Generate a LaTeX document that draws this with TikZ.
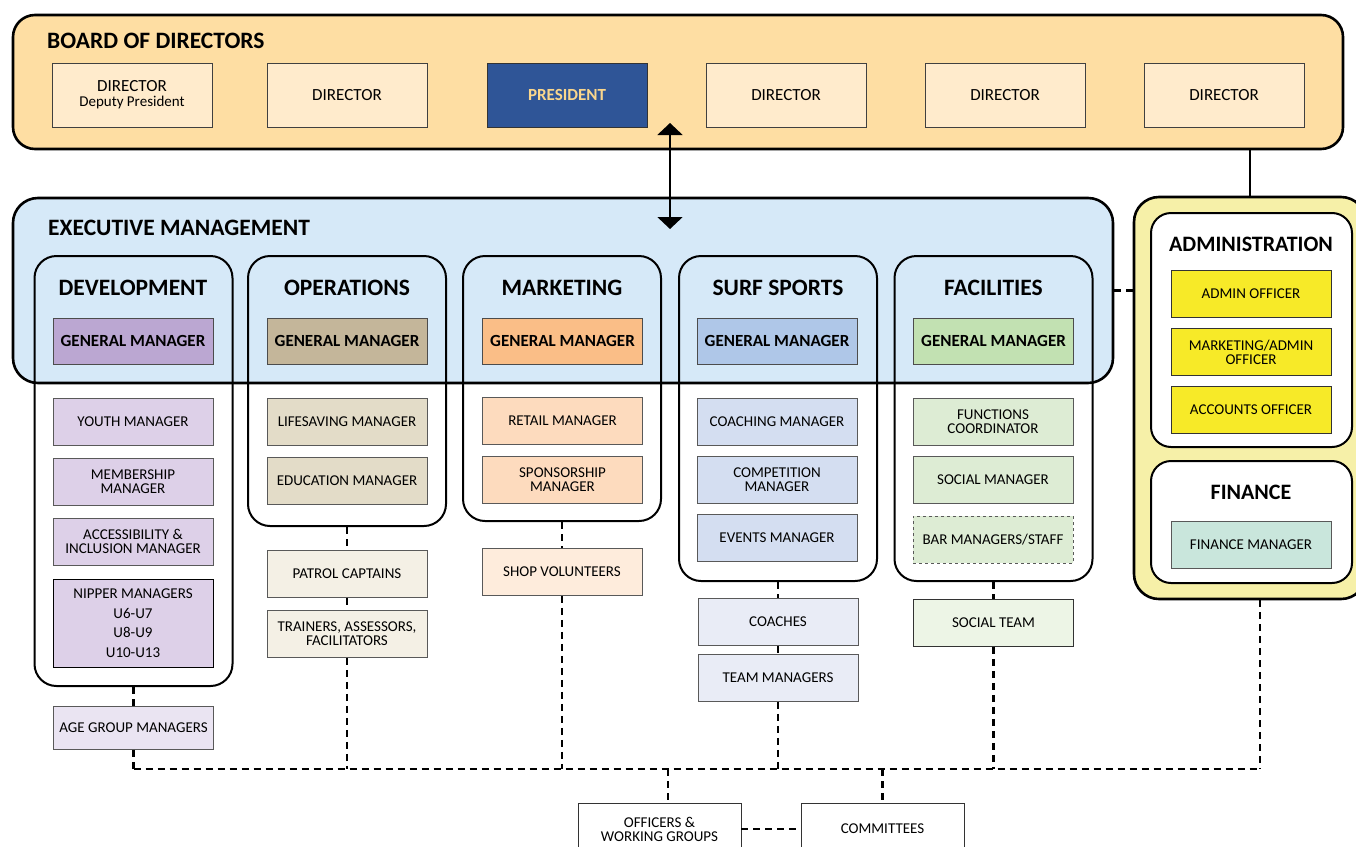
\documentclass[tikz,border=0pt]{standalone}
\usepackage{fontspec}
\setmainfont{Carlito}
\usetikzlibrary{positioning,arrows.meta}

\definecolor{boardfill}{RGB}{254,222,163}
\definecolor{dirfill}{RGB}{255,235,204}
\definecolor{presfill}{RGB}{47,85,151}
\definecolor{prestext}{RGB}{250,214,140}
\definecolor{execfill}{RGB}{214,233,248}
\definecolor{yelfill}{RGB}{246,240,168}
\definecolor{offfill}{RGB}{247,234,40}
\definecolor{finfill}{RGB}{201,230,220}
\definecolor{purpleA}{RGB}{187,167,210}
\definecolor{purpleB}{RGB}{221,208,232}
\definecolor{purpleC}{RGB}{234,228,242}
\definecolor{tanA}{RGB}{196,182,154}
\definecolor{tanB}{RGB}{227,220,200}
\definecolor{tanC}{RGB}{244,240,229}
\definecolor{orangeA}{RGB}{250,190,135}
\definecolor{orangeB}{RGB}{253,219,190}
\definecolor{orangeC}{RGB}{254,236,220}
\definecolor{blueA}{RGB}{175,199,232}
\definecolor{blueB}{RGB}{212,222,241}
\definecolor{blueC}{RGB}{233,236,246}
\definecolor{greenA}{RGB}{194,225,178}
\definecolor{greenB}{RGB}{221,236,212}
\definecolor{greenC}{RGB}{237,245,230}

\begin{document}
\begin{tikzpicture}[x=1pt,y=-1pt,>={Triangle[width=25pt,length=12pt]},
    group/.style={draw,line width=2.6pt,rounded corners=22pt,inner sep=0pt},
    dept/.style={draw,line width=2pt,rounded corners=22pt,minimum width=198pt,anchor=north,inner sep=0pt},
    head/.style={inner sep=0pt,font=\fontsize{23.5}{24}\selectfont\bfseries},
    dir node/.style={draw=black!75,line width=0.9pt,fill=dirfill,minimum width=160pt,minimum height=64pt,align=center,font=\fontsize{17}{17}\selectfont},
    gm node/.style={draw=black!70,line width=1pt,minimum width=160pt,minimum height=46pt,font=\fontsize{17}{17}\selectfont\bfseries},
    sub node/.style={draw=black!65,line width=0.9pt,minimum width=160pt,minimum height=47pt,align=center,font=\fontsize{15}{14}\selectfont},
    link/.style={line width=2.3pt,dash pattern=on 7pt off 5pt}]
    \useasboundingbox (0,0) rectangle (1356,846);
    \clip (0,0) rectangle (1356,846);

    % board of directors
    \node[group,fill=boardfill,minimum width=1330pt,minimum height=134pt] (board) at (678,82) {};
    \node[head,anchor=west] (boardt) at (47,41) {BOARD OF DIRECTORS};
    \node[dir node] (d1) at (132,95) {DIRECTOR\\[-2pt]{\fontsize{15}{15}\selectfont Deputy President}};
    \node[dir node] (d2) at (347,95) {DIRECTOR};
    \node[dir node,draw=black!80,fill=presfill,text=prestext,font=\fontsize{17}{17}\selectfont\bfseries] (pres) at (567,95) {PRESIDENT};
    \node[dir node] (d4) at (786,95) {DIRECTOR};
    \node[dir node] (d5) at (1005,95) {DIRECTOR};
    \node[dir node] (d6) at (1224,95) {DIRECTOR};

    % executive management
    \node[group,fill=execfill,rounded corners=25pt,minimum width=1100pt,minimum height=185pt] (exec) at (563,290.5) {};
    \node[head,anchor=west] (exect) at (48,228) {EXECUTIVE MANAGEMENT};
    \coordinate (up) at (670,123);
    \coordinate (down) at (670,229);
    \draw[<->,line width=2pt] (up) -- (down);

    % administration and finance
    \node[group,fill=yelfill,rounded corners=25pt,minimum width=232pt,minimum height=402pt] (yel) at (1250,398) {};
    \node[draw,line width=2pt,fill=white,rounded corners=20pt,minimum width=201pt,minimum height=234pt] (adm) at (1251.5,330) {};
    \node[head,font=\fontsize{22}{22}\selectfont\bfseries] (admt) at (1251,244) {ADMINISTRATION};
    \node[sub node,draw=black!80,fill=offfill] (o1) at (1251,294) {ADMIN OFFICER};
    \node[sub node,draw=black!80,fill=offfill,below=10pt of o1] (o2) {MARKETING/ADMIN\\OFFICER};
    \node[sub node,draw=black!80,fill=offfill,below=10pt of o2] (o3) {ACCOUNTS OFFICER};
    \node[draw,line width=2pt,fill=white,rounded corners=20pt,minimum width=201pt,minimum height=122pt] (fin) at (1251.5,522) {};
    \node[head,font=\fontsize{22}{22}\selectfont\bfseries] (fint) at (1251,492) {FINANCE};
    \node[sub node,fill=finfill] (fm) at (1251,545) {FINANCE MANAGER};

    % departments
    \node[dept,minimum height=430pt] (dev) at (133.5,255) {};
    \node[dept,minimum height=270pt] (ops) at (347,255) {};
    \node[dept,minimum height=265pt] (mkt) at (562,255) {};
    \node[dept,minimum height=325pt] (surf) at (778,255) {};
    \node[dept,minimum height=325pt] (fac) at (993.5,255) {};
    \node[head] (devt) at (133,288) {DEVELOPMENT};
    \node[head] (opst) at (347,288) {OPERATIONS};
    \node[head] (mktt) at (562,288) {MARKETING};
    \node[head] (surft) at (778,288) {SURF SPORTS};
    \node[head] (fact) at (993.5,288) {FACILITIES};
    \node[gm node,fill=purpleA] (gm1) at (133,341) {GENERAL MANAGER};
    \node[gm node,fill=tanA] (gm2) at (347,341) {GENERAL MANAGER};
    \node[gm node,fill=orangeA] (gm3) at (562.5,341) {GENERAL MANAGER};
    \node[gm node,fill=blueA] (gm4) at (777,341) {GENERAL MANAGER};
    \node[gm node,fill=greenA] (gm5) at (993.5,341) {GENERAL MANAGER};

    % development
    \node[sub node,fill=purpleB] (youth) at (133,422) {YOUTH MANAGER};
    \node[sub node,fill=purpleB,below=12pt of youth] (memb) {MEMBERSHIP\\MANAGER};
    \node[sub node,fill=purpleB,below=12pt of memb] (acc) {ACCESSIBILITY \&\\INCLUSION MANAGER};
    \node[sub node,draw=black,fill=purpleB,minimum height=88pt,font=\fontsize{15}{19.5}\selectfont,below=13pt of acc] (nip) {NIPPER MANAGERS\\U6-U7\\U8-U9\\U10-U13};
    \node[sub node,fill=purpleC,minimum height=43pt,below=19pt of dev] (age) {AGE GROUP MANAGERS};

    % operations
    \node[sub node,fill=tanB] (life) at (347,422) {LIFESAVING MANAGER};
    \node[sub node,fill=tanB,below=11pt of life] (edu) {EDUCATION MANAGER};
    \node[sub node,fill=tanC,below=23pt of ops] (pat) {PATROL CAPTAINS};
    \node[sub node,fill=tanC,below=12pt of pat] (trn) {TRAINERS, ASSESSORS,\\FACILITATORS};

    % marketing
    \node[sub node,fill=orangeB] (ret) at (562.5,421) {RETAIL MANAGER};
    \node[sub node,fill=orangeB,below=11pt of ret] (spon) {SPONSORSHIP\\MANAGER};
    \node[sub node,fill=orangeC,below=26pt of mkt] (shop) {SHOP VOLUNTEERS};

    % surf sports
    \node[sub node,fill=blueB] (coachm) at (777,422) {COACHING MANAGER};
    \node[sub node,fill=blueB,below=10pt of coachm] (comp) {COMPETITION\\MANAGER};
    \node[sub node,fill=blueB,below=10pt of comp] (evt) {EVENTS MANAGER};
    \node[sub node,fill=blueC,below=16pt of surf] (coach) {COACHES};
    \node[sub node,fill=blueC,below=8pt of coach] (team) {TEAM MANAGERS};

    % facilities
    \node[sub node,fill=greenB] (func) at (993,422) {FUNCTIONS\\COORDINATOR};
    \node[sub node,fill=greenB,below=10pt of func] (socm) {SOCIAL MANAGER};
    \node[sub node,fill=greenB,dashed,below=12pt of socm] (bar) {BAR MANAGERS/STAFF};
    \node[sub node,draw=black!80,fill=greenC,below=17pt of fac] (steam) {SOCIAL TEAM};

    % officers and committees
    \coordinate (bus) at (668,769);
    \node[sub node,draw=black!80,fill=white,minimum width=163pt,minimum height=52pt] (offc) at (659.5,829) {OFFICERS \&\\WORKING GROUPS};
    \node[sub node,draw=black!80,fill=white,minimum width=163pt,minimum height=52pt] (com) at (882.5,829) {COMMITTEES};

    % links
    \draw[line width=2.4pt] (yel.north |- board.south) -- (yel.north);
    \draw[link] (exec.east) -- (exec.east -| yel.west);
    \draw[link] (dev.south) -- (age.north);
    \draw[link] (age.south) -- (age.south |- bus);
    \draw[link] (ops.south) -- (pat.north);
    \draw[link] (pat) -- (trn);
    \draw[link] (trn.south) -- (trn.south |- bus);
    \draw[link] (mkt.south) -- (shop.north);
    \draw[link] (shop.south) -- (shop.south |- bus);
    \draw[link] (surf.south) -- (coach.north);
    \draw[link] (coach) -- (team);
    \draw[link] (team.south) -- (team.south |- bus);
    \draw[link] (fac.south) -- (steam.north);
    \draw[link] (steam.south) -- (steam.south |- bus);
    \draw[link] ([xshift=10pt]yel.south) -- ([xshift=10pt]yel.south |- bus);
    \draw[link] (age.south |- bus) -- ([xshift=10pt]yel.south |- bus);
    \draw[link] (bus) -- (bus |- offc.north);
    \draw[link] (com.north |- bus) -- (com.north);
    \draw[link] (offc) -- (com);
\end{tikzpicture}
\end{document}
